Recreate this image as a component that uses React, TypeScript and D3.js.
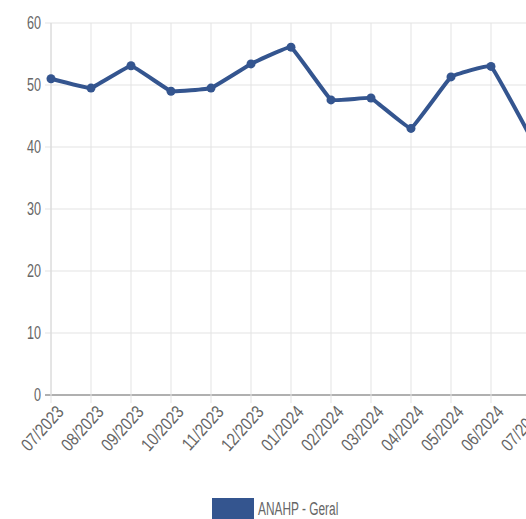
import React from "react";
import * as d3 from "d3";

const categories = ["07/2023","08/2023","09/2023","10/2023","11/2023","12/2023","01/2024","02/2024","03/2024","04/2024","05/2024","06/2024","07/2024"];
const values = [51.0, 49.5, 53.1, 49.0, 49.5, 53.4, 56.1, 47.6, 47.9, 43.0, 51.3, 53.0, 41.5];
const yTicks = [0, 10, 20, 30, 40, 50, 60];
const seriesName = "ANAHP - Geral";

const W = 600, H = 519;
const left = 51, top = 23, bottom = 395;
const color = "#34558f";
const font = "'Liberation Sans', Arial, sans-serif";

export default function App() {
  const x = d3.scalePoint<string>().domain(categories).range([left, left + 40 * (categories.length - 1)]);
  const y = d3.scaleLinear().domain([0, 60]).range([bottom, top]);
  const line = d3.line<number>().x((_, i) => x(categories[i])!).y(d => y(d)).curve(d3.curveCardinal.tension(0.8));
  const right = W;
  return (
    <div style={{ position: "fixed", left: 0, top: 0, width: 526, height: 519, overflow: "hidden", background: "#fff" }}>
      <svg width={W} height={H} style={{ display: "block", fontFamily: font }}>
        {yTicks.map(t => (
          <g key={t}>
            <line x1={left - 6} x2={right} y1={y(t)} y2={y(t)} stroke={t === 0 ? "#b0b0b0" : "#e3e3e3"} strokeWidth={t === 0 ? 2 : 1} />
            <text transform={`translate(${left - 10},${y(t)}) scale(0.7,1)`} dy="0.36em" textAnchor="end" fontSize={18} fill="#666">{t}</text>
          </g>
        ))}
        {categories.map(c => (
          <g key={c}>
            <line x1={x(c)} x2={x(c)} y1={top} y2={bottom + 8} stroke="#e3e3e3" strokeWidth={1} />
            <text transform={`translate(${x(c)! + 4},${bottom + 9}) rotate(-48) scale(0.82,1)`} textAnchor="end" dy="0.72em" fontSize={18} fill="#666">{c}</text>
          </g>
        ))}
        <line x1={left} x2={left} y1={top} y2={bottom} stroke="#d8d8d8" />
        <path d={line(values)!} fill="none" stroke={color} strokeWidth={4} strokeLinejoin="round" />
        {values.map((v, i) => (
          <circle key={i} cx={x(categories[i])} cy={y(v)} r={4.5} fill={color} />
        ))}
        <rect x={212} y={498} width={42} height={22} fill={color} />
        <text transform={`translate(258,515) scale(0.66,1)`} fontSize={18} fill="#666">{seriesName}</text>
      </svg>
    </div>
  );
}
